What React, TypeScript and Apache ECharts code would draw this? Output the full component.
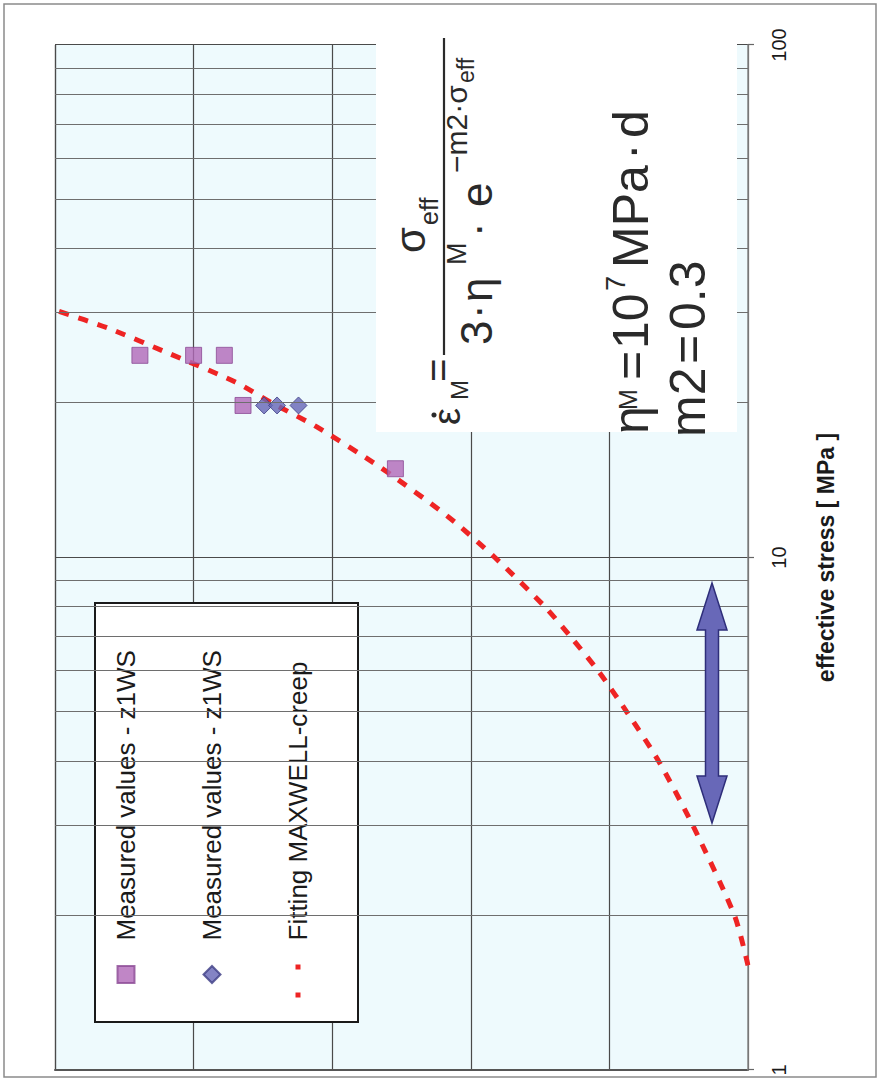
import React, { useEffect, useRef } from 'react';
import * as echarts from 'echarts';

// ---- data ----
const minorStress = [2, 3, 4, 5, 6, 7, 8, 9, 20, 30, 40, 50, 60, 70, 80, 90];

const squareStress = [24.8, 24.8, 24.8, 19.8, 14.9];
const squareRate = [2.44e-3, 1.0e-3, 6.0e-4, 4.4e-4, 3.5e-5];

const diamondStress = [19.8, 19.8, 19.8];
const diamondRate = [3.1e-4, 2.5e-4, 1.75e-4];

const fitStress = [1.6, 2, 3, 4, 5, 6, 7, 8, 10, 12, 15, 18, 20, 22, 25, 28, 30.4];
const fitRate = [1.0e-7, 1.25e-7, 2.5e-7, 4.4e-7, 7.5e-7, 1.2e-6, 1.9e-6, 2.9e-6, 6.7e-6, 1.45e-5, 4.5e-5, 1.3e-4, 2.7e-4, 5.0e-4, 1.5e-3, 4.1e-3, 1.0e-2];

const seriesNames = ['Measured values - z1WS', 'Measured values - z1WS #2', 'Fitting MAXWELL-creep'];
const xAxisTitle = 'effective stress [ MPa ]';

const FONT = 'Liberation Sans, Arial, sans-serif';
const INK = '#2a2a2a';
const RED = '#ee2424';

function txt(text: string, x: number, base: number, size: number) {
  return {
    type: 'text',
    x,
    y: base - 0.35 * size,
    z: 101,
    silent: true,
    style: { text, fontSize: size, fontFamily: FONT, fill: INK, align: 'left', verticalAlign: 'middle' },
  };
}

function buildOption() {
  const pairs = (a: number[], b: number[]) => a.map((v, i) => [v, b[i]]);
  const graphics: any[] = [
    // outer frame
    { type: 'rect', z: 100, silent: true, shape: { x: 3, y: 4, width: 1073, height: 872 }, style: { fill: 'none', stroke: '#8a8a8a', lineWidth: 1.5 } },
    // formula box
    { type: 'rect', z: 100, silent: true, shape: { x: 648, y: 376, width: 420, height: 361 }, style: { fill: '#ffffff' } },
    // line 1: eps_M = sigma_eff / (3 . eta^M . e^(-m2 . sigma_eff))
    txt('ε', 655, 460, 38),
    { type: 'circle', z: 101, silent: true, shape: { cx: 665, cy: 434, r: 2.6 }, style: { fill: INK } },
    txt('M', 680, 468, 24),
    txt('=', 698, 452, 40),
    { type: 'line', z: 101, silent: true, shape: { x1: 725, y1: 444, x2: 1042, y2: 444 }, style: { stroke: INK, lineWidth: 2.2 } },
    txt('σ', 827, 425, 42),
    txt('eff', 855, 438, 25),
    txt('3', 735, 492, 44),
    txt('·', 761, 492, 44),
    txt('η', 778, 492, 44),
    txt('M', 815, 466, 27),
    txt('·', 843, 492, 44),
    txt('e', 873, 492, 44),
    txt('−m2·σ', 907, 467, 30),
    txt('eff', 997, 474, 23),
    // line 2: eta^M = 10^7 MPa . d
    txt('η', 646, 648, 50),
    txt('M', 670, 637, 25),
    txt('=', 700, 648, 50),
    txt('10', 731, 648, 50),
    txt('7', 789, 625, 27),
    txt('MPa', 812, 648, 50),
    txt('·', 920, 648, 50),
    txt('d', 942, 648, 50),
    // line 3: m2 = 0.3
    txt('m2', 643, 705, 50),
    txt('=', 716, 705, 50),
    txt('0.3', 750, 705, 50),
    // double arrow
    {
      type: 'polygon', z: 90, silent: true,
      shape: {
        points: [
          [257, 712], [304, 697], [304, 705.5], [450, 705.5], [450, 697], [497, 712],
          [450, 727], [450, 718.5], [304, 718.5], [304, 727],
        ],
      },
      style: { fill: '#6868b8', stroke: '#2e2e7a', lineWidth: 1.5 },
    },
  ];

  return {
    animation: false,
    backgroundColor: '#ffffff',
    grid: { left: 10, right: 45, top: 55, bottom: 134, show: true, backgroundColor: '#eefafd', borderWidth: 0 },
    xAxis: {
      type: 'log', logBase: 10, min: 1, max: 100,
      name: xAxisTitle, nameLocation: 'middle', nameGap: 66,
      nameTextStyle: { fontFamily: FONT, fontWeight: 'bold', fontSize: 23, color: '#1a1a1a' },
      axisLine: { show: true, lineStyle: { color: '#888', width: 1.5 } },
      axisTick: { show: true, length: 6, lineStyle: { color: '#666', width: 1.2 } },
      axisLabel: { fontFamily: FONT, fontSize: 20, color: '#1a1a1a', margin: 21 },
      splitLine: { show: true, lineStyle: { color: '#4a4a4a', width: 1.2 } },
    },
    yAxis: {
      type: 'log', logBase: 10, min: 1e-7, max: 1e-2,
      axisLine: { show: true, lineStyle: { color: '#555', width: 2 } },
      axisTick: { show: false },
      axisLabel: { show: false },
      splitLine: { show: true, lineStyle: { color: '#4a4a4a', width: 1.2 } },
    },
    legend: {
      orient: 'vertical', left: 58, top: 95,
      padding: [15, 47, 44, 22],
      itemGap: 54, itemWidth: 46, itemHeight: 17,
      symbolKeepAspect: true,
      selectedMode: false,
      backgroundColor: '#ffffff', borderColor: '#1a1a1a', borderWidth: 2,
      textStyle: { fontFamily: FONT, fontSize: 26, color: '#1a1a1a', lineHeight: 32, padding: [0, 0, 0, 6] },
      formatter: (name: string) => name.replace(' #2', ''),
      data: [
        { name: seriesNames[0], icon: 'path://M0,0L10,0L10,10L0,10Z' },
        { name: seriesNames[1], icon: 'path://M5,0L10,5L5,10L0,5Z' },
        { name: seriesNames[2], lineStyle: { type: [5, 23], width: 5, color: RED }, itemStyle: { opacity: 0 } },
      ],
    },
    graphic: graphics,
    series: [
      {
        type: 'line', name: 'minor-grid', data: [], z: 1, silent: true,
        markLine: {
          silent: true, symbol: ['none', 'none'], animation: false,
          label: { show: false },
          lineStyle: { color: '#6e6e6e', width: 1.1, type: 'solid' },
          emphasis: { disabled: true },
          data: minorStress.map((v) => ({ xAxis: v })),
        },
      },
      {
        type: 'line', name: seriesNames[2], data: pairs(fitStress, fitRate),
        symbol: 'none', smooth: 0.25, z: 3,
        itemStyle: { color: RED },
        lineStyle: { color: RED, width: 5, type: [10, 10], cap: 'butt' },
      },
      {
        type: 'scatter', name: seriesNames[0], data: pairs(squareStress, squareRate),
        symbol: 'rect', symbolSize: 16, z: 4,
        itemStyle: { color: '#b068b8', borderColor: '#8b4a95', borderWidth: 1 },
      },
      {
        type: 'scatter', name: seriesNames[1], data: pairs(diamondStress, diamondRate),
        symbol: 'diamond', symbolSize: 17, z: 4,
        itemStyle: { color: '#6565b5', borderColor: '#3d3d85', borderWidth: 1 },
      },
    ],
  };
}

export default function App() {
  const ref = useRef<HTMLDivElement>(null);
  useEffect(() => {
    const chart = echarts.init(ref.current as HTMLDivElement, null, { renderer: 'svg' });
    chart.setOption(buildOption() as any);
    return () => chart.dispose();
  }, []);
  return (
    <div style={{ position: 'fixed', left: 0, top: 0, width: 882, height: 1080, overflow: 'hidden', background: '#fff' }}>
      <div
        ref={ref}
        style={{
          position: 'absolute', left: 0, top: 0, width: 1080, height: 882,
          transformOrigin: '0 0', transform: 'translate(0px, 1080px) rotate(-90deg)',
        }}
      />
    </div>
  );
}
